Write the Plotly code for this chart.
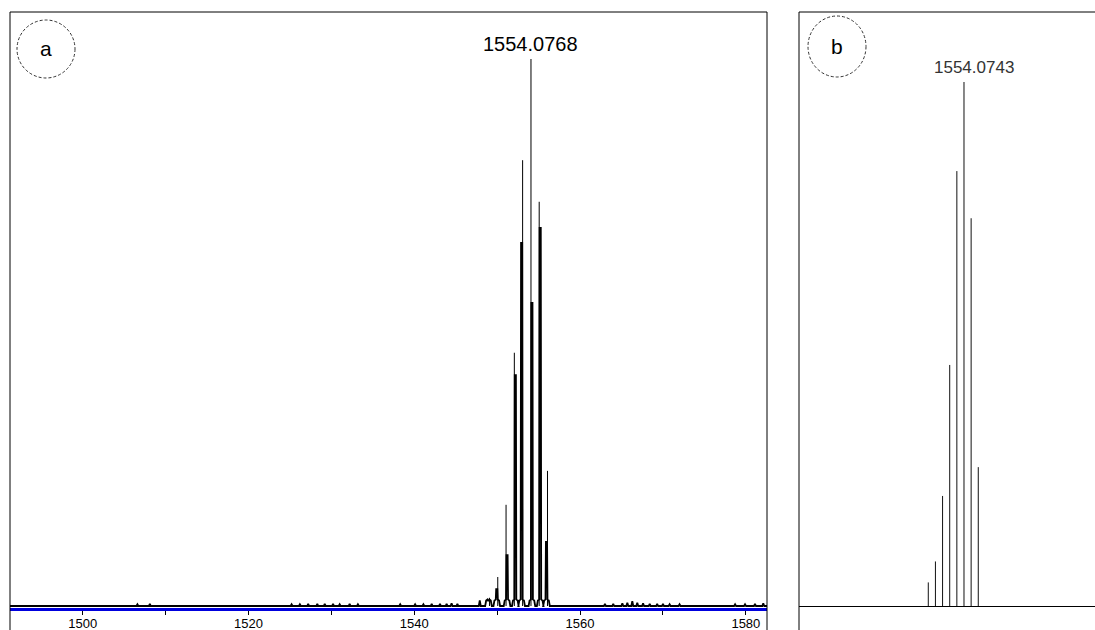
import plotly.graph_objects as go

W, H = 1095, 630

# ---------------- data ----------------
# Panel a: centroid sticks (m/z, relative intensity %)
a_stick_mz = [1549.07, 1550.07, 1551.07, 1552.07, 1553.07, 1554.0768, 1555.07, 1556.07]
a_stick_int = [1.5, 5.3, 18.5, 46.3, 81.5, 100.0, 73.9, 24.7]
# Panel a: profile peaks (m/z, relative intensity %)
a_prof_mz = [1548.95, 1549.95, 1551.19, 1552.19, 1552.95, 1554.19, 1555.19, 1555.95]
a_prof_int = [1.0, 3.1, 9.3, 42.2, 66.4, 55.4, 69.1, 11.7]
# Panel a: baseline noise (m/z, relative intensity %)
a_noise_mz = [1506.6, 1508.1, 1525.2, 1526.2, 1527.2, 1528.3, 1529.2, 1530.2, 1531.0,
              1532.2, 1533.2, 1538.3, 1540.1, 1541.1, 1542.1, 1543.1, 1543.9, 1544.5,
              1545.2, 1547.9, 1563.0, 1564.0, 1565.1, 1565.7, 1566.3, 1566.9, 1567.6,
              1568.4, 1569.3, 1570.0, 1570.8, 1572.0, 1578.7, 1579.9, 1581.1, 1582.1]
a_noise_int = [0.3, 0.4, 0.3, 0.3, 0.4, 0.4, 0.4, 0.4, 0.3,
               0.4, 0.3, 0.3, 0.3, 0.3, 0.4, 0.4, 0.4, 0.5,
               0.4, 1.0, 0.4, 0.4, 0.5, 0.6, 0.9, 0.6, 0.5,
               0.4, 0.4, 0.4, 0.3, 0.3, 0.3, 0.3, 0.4, 0.5]
a_label = "1554.0768"
a_label_mz = 1554.0768

# Panel b: theoretical isotope pattern (m/z, relative intensity %)
b_mz = [1549.0743, 1550.0743, 1551.0743, 1552.0743, 1553.0743, 1554.0743, 1555.0743, 1556.0743]
b_int = [4.5, 8.5, 21.0, 46.0, 83.0, 100.0, 74.0, 26.5]
b_label = "1554.0743"
b_label_mz = 1554.0743

# axis settings
a_xrange = [1491.23, 1582.55]
a_tick0, a_dtick, a_minor = 1500, 20, 10
b_xrange = [1530.97, 1572.42]


# ---------------- helpers ----------------
def px(x):
    return x / W


def py(y):
    return 1 - y / H


def sticks(mz, inten):
    xs, ys = [], []
    for m, h in zip(mz, inten):
        xs += [m, m, None]
        ys += [0, h, None]
    return xs, ys


def profile(mz, inten, noise_mz, noise_int, xr):
    pts = []
    for m, h in zip(mz, inten):
        pts.append((m, [(-0.4, 0), (-0.28, 1.0), (-0.12, 1.2), (-0.07, h), (0.07, h),
                        (0.12, 1.2), (0.28, 1.0), (0.4, 0)]))
    for m, h in zip(noise_mz, noise_int):
        pts.append((m, [(-0.12, 0), (0.0, h), (0.12, 0)]))
    pts.sort(key=lambda t: t[0])
    xs, ys = [xr[0]], [0]
    for m, shape in pts:
        for dx, v in shape:
            xs.append(m + dx)
            ys.append(v)
    xs.append(xr[1])
    ys.append(0)
    return xs, ys


fig = go.Figure()

pxs, pys = profile(a_prof_mz, a_prof_int, a_noise_mz, a_noise_int, a_xrange)
fig.add_trace(go.Scatter(x=pxs, y=pys, mode="lines", line=dict(color="black", width=1.8),
                         xaxis="x", yaxis="y", hoverinfo="skip", showlegend=False))
sx, sy = sticks(a_stick_mz, a_stick_int)
fig.add_trace(go.Scatter(x=sx, y=sy, mode="lines", line=dict(color="black", width=1),
                         xaxis="x", yaxis="y", hoverinfo="skip", showlegend=False))
bx, by = sticks(b_mz, b_int)
fig.add_trace(go.Scatter(x=bx, y=by, mode="lines", line=dict(color="#111111", width=1),
                         xaxis="x2", yaxis="y2", hoverinfo="skip", showlegend=False))

# ---------------- layout ----------------
a_left, a_right, top = 10, 767, 12
b_left = 799
a_axis_px = 608
b_axis_px = 606

a_zero_px, a_full_px = 606, 59
a_ppu = (a_zero_px - a_full_px) / 100.0
a_yrange = [-(a_axis_px - a_zero_px) / a_ppu, 100 + (a_full_px - top) / a_ppu]
b_zero_px, b_full_px = 606, 82
b_ppu = (b_zero_px - b_full_px) / 100.0
b_yrange = [0, 100 + (b_full_px - top) / b_ppu]

fig.update_layout(
    width=W, height=H,
    margin=dict(l=0, r=0, t=0, b=0),
    paper_bgcolor="white", plot_bgcolor="white",
    showlegend=False,
    xaxis=dict(domain=[px(a_left), px(a_right)], range=a_xrange, anchor="y",
               showline=True, linecolor="#0000dd", linewidth=3,
               ticks="outside", ticklen=4, tickcolor="black", tickwidth=1,
               tick0=a_tick0, dtick=a_dtick, ticklabelstandoff=-3,
               minor=dict(dtick=a_minor, ticks="outside", ticklen=4, tickcolor="black"),
               tickfont=dict(family="Liberation Sans, Arial", size=13, color="black"),
               showgrid=False, zeroline=False, fixedrange=True),
    yaxis=dict(domain=[py(a_axis_px), py(top)], range=a_yrange, anchor="x",
               visible=False, fixedrange=True),
    xaxis2=dict(domain=[px(b_left), 1], range=b_xrange, anchor="y2",
                showline=True, linecolor="black", linewidth=1,
                showticklabels=False, ticks="", showgrid=False, zeroline=False),
    yaxis2=dict(domain=[py(b_axis_px), py(top)], range=b_yrange, anchor="x2",
                visible=False),
)

line_k = dict(color="black", width=1)
circ = dict(color="#333333", width=1, dash="3px,2px")
shapes = [
    dict(type="line", xref="paper", yref="paper", x0=px(a_left), x1=px(a_left), y0=py(top), y1=0, line=line_k),
    dict(type="line", xref="paper", yref="paper", x0=px(a_right), x1=px(a_right), y0=py(top), y1=0, line=line_k),
    dict(type="line", xref="paper", yref="paper", x0=px(a_left), x1=px(a_right), y0=py(top), y1=py(top), line=line_k),
    dict(type="line", xref="paper", yref="paper", x0=px(b_left), x1=px(b_left), y0=py(top), y1=0, line=line_k),
    dict(type="line", xref="paper", yref="paper", x0=px(b_left), x1=1, y0=py(top), y1=py(top), line=line_k),
    dict(type="circle", xref="paper", yref="paper", x0=px(17), x1=px(75), y0=py(20), y1=py(78), line=circ),
    dict(type="circle", xref="paper", yref="paper", x0=px(808), x1=px(866), y0=py(16), y1=py(77), line=circ),
]
fig.update_layout(shapes=shapes)

annotations = [
    dict(text="a", xref="paper", yref="paper", x=px(46), y=py(49), showarrow=False,
         xanchor="center", yanchor="middle", font=dict(family="Liberation Sans, Arial", size=21, color="black")),
    dict(text="b", xref="paper", yref="paper", x=px(837), y=py(47), showarrow=False,
         xanchor="center", yanchor="middle", font=dict(family="Liberation Sans, Arial", size=21, color="black")),
    dict(text=a_label, xref="x", yref="y", x=a_label_mz, y=100, yshift=15, showarrow=False,
         xanchor="center", yanchor="middle", font=dict(family="Liberation Sans, Arial", size=20, color="black")),
    dict(text=b_label, xref="x2", yref="y2", x=b_label_mz, y=100, xshift=10, yshift=15, showarrow=False,
         xanchor="center", yanchor="middle", font=dict(family="Liberation Sans, Arial", size=17, color="#333333")),
]
fig.update_layout(annotations=annotations)

fig.write_html("out.html")
